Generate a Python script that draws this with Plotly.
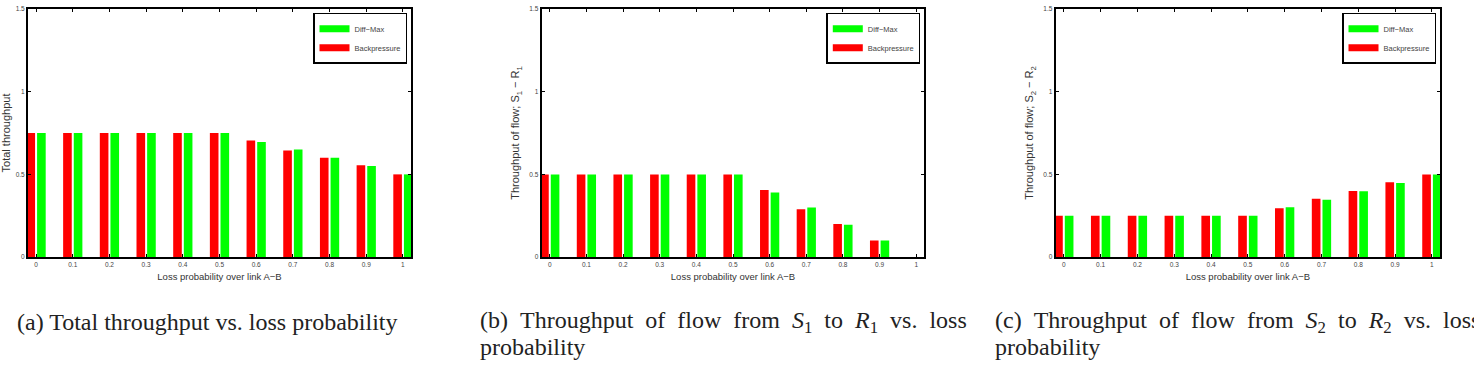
import plotly.graph_objects as go

loss = [0, 0.1, 0.2, 0.3, 0.4, 0.5, 0.6, 0.7, 0.8, 0.9, 1.0]
tick_labels = ["0", "0.1", "0.2", "0.3", "0.4", "0.5", "0.6", "0.7", "0.8", "0.9", "1"]

total_bp = [0.75, 0.75, 0.75, 0.75, 0.75, 0.75, 0.705, 0.645, 0.60, 0.555, 0.50]
total_dm = [0.75, 0.75, 0.75, 0.75, 0.75, 0.75, 0.695, 0.650, 0.60, 0.550, 0.50]
flow1_bp = [0.5, 0.5, 0.5, 0.5, 0.5, 0.5, 0.405, 0.29, 0.20, 0.10, 0.0]
flow1_dm = [0.5, 0.5, 0.5, 0.5, 0.5, 0.5, 0.390, 0.30, 0.195, 0.10, 0.0]
flow2_bp = [0.25, 0.25, 0.25, 0.25, 0.25, 0.25, 0.296, 0.353, 0.40, 0.452, 0.50]
flow2_dm = [0.25, 0.25, 0.25, 0.25, 0.25, 0.25, 0.302, 0.347, 0.398, 0.448, 0.50]

y_ticks = [0, 0.5, 1, 1.5]
y_tick_labels = ["0", "0.5", "1", "1.5"]

y_titles = ["Total throughput",
            "Throughput of flow; S<sub>1</sub> − R<sub>1</sub>",
            "Throughput of flow; S<sub>2</sub> − R<sub>2</sub>"]
x_title = "Loss probability over link A−B"

W, H = 1474, 369
RED = "#ff0000"
GREEN = "#00ff00"

fig = go.Figure()

panels = [(total_bp, total_dm), (flow1_bp, flow1_dm), (flow2_bp, flow2_dm)]
domains = [(28, 411), (541.7, 924.3), (1055.7, 1440)]
legend_names = ["legend", "legend2", "legend3"]

for i, (bp, dm) in enumerate(panels):
    sfx = "" if i == 0 else str(i + 1)
    fig.add_trace(go.Bar(x=loss, y=bp, marker=dict(color=RED, line=dict(width=0)),
                         xaxis="x" + sfx, yaxis="y" + sfx, showlegend=False,
                         offsetgroup="bp"))
    fig.add_trace(go.Bar(x=loss, y=dm, marker=dict(color=GREEN, line=dict(width=0)),
                         xaxis="x" + sfx, yaxis="y" + sfx, showlegend=False,
                         offsetgroup="dm"))
    # legend entries (wide swatches)
    fig.add_trace(go.Scatter(x=[None], y=[None], mode="lines", name="Diff−Max",
                             line=dict(color=GREEN, width=7), xaxis="x" + sfx, yaxis="y" + sfx,
                             legend=legend_names[i]))
    fig.add_trace(go.Scatter(x=[None], y=[None], mode="lines", name="Backpressure",
                             line=dict(color=RED, width=7), xaxis="x" + sfx, yaxis="y" + sfx,
                             legend=legend_names[i]))

y_dom = [1 - 258 / H, 1 - 5 / H]
axis_font = dict(family="Liberation Sans, Arial", size=6.5, color="#444")
xtitle_font = dict(family="Liberation Sans, Arial", size=9.5, color="#333")
ytitle_font = dict(family="Liberation Sans, Arial", size=11, color="#333")

layout = dict(
    width=W, height=H, margin=dict(l=0, r=0, t=0, b=0),
    paper_bgcolor="white", plot_bgcolor="white",
    barmode="group", bargap=0.42, bargroupgap=0.19,
)
for i, (l, r) in enumerate(domains):
    sfx = "" if i == 0 else str(i + 1)
    layout["xaxis" + sfx] = dict(
        domain=[l / W, r / W], range=[-0.022, 1.022], anchor="y" + sfx,
        tickmode="array", tickvals=loss, ticktext=tick_labels,
        ticks="inside", ticklen=3, tickwidth=1, tickcolor="black",
        showline=True, linecolor="black", linewidth=2, mirror="allticks",
        showgrid=False, zeroline=False, tickfont=axis_font,
        title=dict(text=x_title, font=xtitle_font, standoff=6),
        fixedrange=True,
    )
    layout["yaxis" + sfx] = dict(
        domain=y_dom, range=[0, 1.5], anchor="x" + sfx,
        tickmode="array", tickvals=y_ticks, ticktext=y_tick_labels,
        ticks="inside", ticklen=3, tickwidth=1, tickcolor="black",
        showline=True, linecolor="black", linewidth=2, mirror="allticks",
        showgrid=False, zeroline=False, tickfont=axis_font,
        title=dict(text=y_titles[i], font=ytitle_font, standoff=3 if i == 0 else 7),
        fixedrange=True,
    )
    layout[legend_names[i]] = dict(
        x=(r - 4) / W, y=1 - 9 / H, xanchor="right", yanchor="top",
        bgcolor="white", bordercolor="black", borderwidth=1.5,
        font=dict(family="Liberation Sans, Arial", size=7.5, color="#444"),
        itemwidth=30, tracegroupgap=0,
    )

fig.update_layout(**layout)

cap_font = dict(family="Liberation Serif, Times New Roman, serif", size=24, color="#222")
sp1 = " "
sp2 = " &nbsp;"
cap_a = sp1.join(["(a)", "Total", "throughput", "vs.", "loss", "probability"])
cap_b = sp2.join(["(b)", "Throughput", "of", "flow", "from", "<i>S</i><sub>1</sub>", "to",
                  "<i>R</i><sub>1</sub>", "vs.", "loss"])
cap_c = sp2.join(["(c)", "Throughput", "of", "flow", "from", "<i>S</i><sub>2</sub>", "to",
                  "<i>R</i><sub>2</sub>", "vs.", "loss"])
captions = [
    (15, 324, cap_a),
    (478, 324, cap_b),
    (478, 350, "probability"),
    (993, 324, cap_c),
    (993, 350, "probability"),
]
for x, y, t in captions:
    fig.add_annotation(x=x / W, y=1 - y / H, xref="paper", yref="paper",
                       xanchor="left", yanchor="middle", text=t, showarrow=False,
                       font=cap_font, align="left")

fig.write_html("out.html")
